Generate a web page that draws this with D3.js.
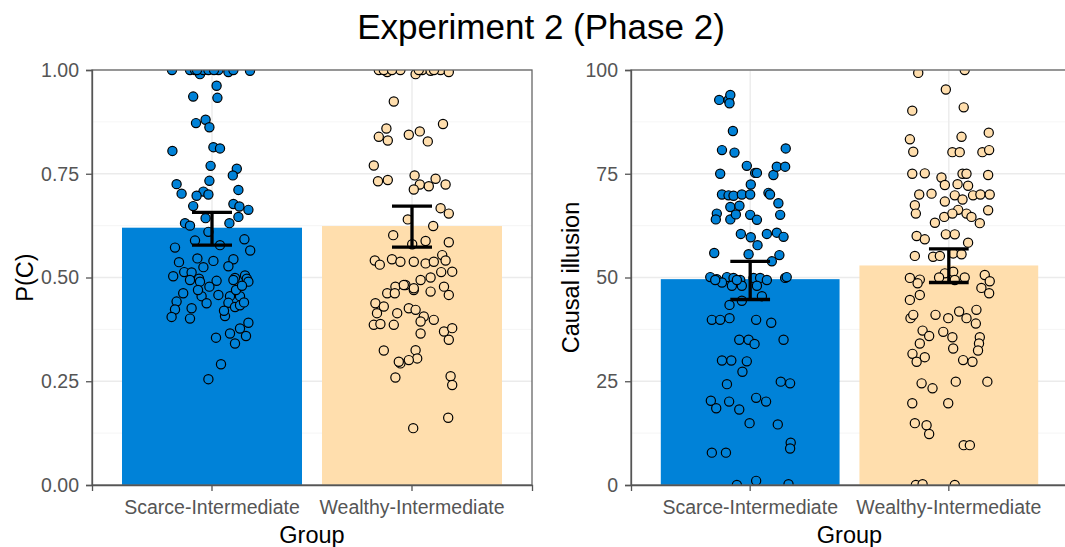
<!DOCTYPE html>
<html>
<head>
<meta charset="utf-8">
<script src="https://cdn.jsdelivr.net/npm/d3@7"></script>
<style>
  body { margin: 0; background: #fff; }
  svg { display: block; font-family: "Liberation Sans", Arial, sans-serif; }
</style>
</head>
<body>
<script>
const width = 1065;
const height = 547;

const groups = ['Scarce-Intermediate', 'Wealthy-Intermediate'];
const groupColors = ['#0082d8', '#ffdead'];

// panel 1: P(C)
const pcMeans = [0.620, 0.624];
const pcLow = [0.578, 0.573];
const pcHigh = [0.657, 0.672];
const pcTicks = [0, 0.25, 0.5, 0.75, 1];

// panel 2: causal illusion
const ciMeans = [49.6, 52.9];
const ciLow = [44.7, 48.8];
const ciHigh = [53.9, 56.9];
const ciTicks = [0, 25, 50, 75, 100];

// individual participants: [jitter (category units), value]
const scarcePC = [
  [-0.20, 1.00], [-0.11, 1.00], [-0.085, 1.00], [-0.06, 0.99], [-0.043, 1.00], [-0.018, 1.00],
  [0.032, 1.00], [0.082, 0.995], [0.107, 1.00], [0.19, 0.998], [-0.075, 1.00], [0.01, 1.00],
  [0.023, 0.962], [-0.094, 0.936], [0.027, 0.933], [-0.032, 0.880], [-0.08, 0.872], [-0.013, 0.862],
  [-0.198, 0.805], [0.007, 0.814], [0.04, 0.811], [-0.007, 0.769], [0.124, 0.762], [0.104, 0.746],
  [-0.013, 0.733], [-0.177, 0.725], [0.132, 0.711], [-0.043, 0.707], [-0.077, 0.697], [-0.018, 0.700],
  [-0.152, 0.702], [-0.094, 0.672], [0.107, 0.677], [0.137, 0.671], [0.182, 0.663], [-0.032, 0.643],
  [0.132, 0.646], [-0.135, 0.631], [-0.11, 0.625], [0.087, 0.631], [-0.018, 0.610], [0.162, 0.592],
  [-0.085, 0.589], [-0.185, 0.572], [0.040, 0.578], [0.191, 0.565], [-0.073, 0.546], [0.007, 0.540],
  [-0.165, 0.537], [0.107, 0.544], [0.082, 0.527], [-0.043, 0.525], [-0.139, 0.513], [-0.102, 0.512],
  [-0.194, 0.503], [-0.065, 0.497], [0.165, 0.505], [0.174, 0.497], [0.115, 0.499],
  [-0.11, 0.494], [-0.06, 0.49], [0.023, 0.492], [0.107, 0.494], [0.182, 0.49],
  [-0.144, 0.462], [-0.177, 0.442], [-0.102, 0.426], [-0.185, 0.423], [-0.052, 0.455], [-0.027, 0.438],
  [-0.013, 0.478], [-0.202, 0.405], [-0.11, 0.401], [0.032, 0.458], [0.090, 0.455], [0.140, 0.455],
  [0.082, 0.439], [0.115, 0.429], [0.140, 0.433], [0.065, 0.407], [0.182, 0.391], [0.020, 0.355],
  [0.090, 0.365], [0.140, 0.377], [0.115, 0.341], [0.170, 0.359], [0.045, 0.291], [-0.018, 0.255],
  [0.12, 0.47], [0.15, 0.48], [-0.07, 0.47], [0.06, 0.42], [0.16, 0.44]
];

const wealthyPC = [
  [-0.166, 1.00], [-0.124, 0.995], [-0.058, 1.00], [0.018, 0.99], [0.051, 1.00], [0.093, 0.998],
  [0.143, 1.00], [0.184, 0.995], [-0.141, 1.00], [-0.10, 1.00], [0.11, 1.00], [0.034, 1.00],
  [-0.091, 0.924], [0.155, 0.870], [-0.128, 0.859], [0.039, 0.852], [-0.016, 0.844], [-0.166, 0.839],
  [-0.121, 0.830], [0.079, 0.828], [-0.191, 0.770], [0.013, 0.746], [0.118, 0.738], [-0.17, 0.732],
  [-0.121, 0.735], [0.168, 0.724], [0.039, 0.724], [0.084, 0.72], [0.009, 0.712], [0.143, 0.667],
  [0.184, 0.654], [-0.021, 0.640], [0.106, 0.624], [-0.094, 0.602], [0.001, 0.580], [0.184, 0.585],
  [0.151, 0.554], [0.068, 0.588], [-0.186, 0.541], [-0.161, 0.531], [-0.10, 0.544], [-0.058, 0.538],
  [0.009, 0.538], [0.068, 0.534], [0.109, 0.538], [0.201, 0.514], [0.168, 0.541],
  [0.009, 0.470], [-0.033, 0.482], [-0.083, 0.478], [-0.124, 0.462], [0.043, 0.494], [0.093, 0.50],
  [0.146, 0.513], [-0.183, 0.438], [-0.175, 0.414], [-0.141, 0.43], [-0.074, 0.414], [-0.016, 0.426],
  [0.018, 0.422], [0.059, 0.406], [0.109, 0.398], [0.043, 0.394], [-0.086, 0.462], [-0.041, 0.482],
  [0.009, 0.474], [0.093, 0.466], [0.16, 0.478], [0.184, 0.458], [-0.191, 0.386], [-0.158, 0.388],
  [-0.091, 0.386], [0.043, 0.365], [0.16, 0.37], [0.201, 0.378], [0.184, 0.35], [-0.141, 0.324],
  [0.018, 0.325], [0.026, 0.305], [-0.016, 0.301], [-0.058, 0.293], [-0.066, 0.297], [-0.083, 0.259],
  [0.193, 0.262], [0.201, 0.241], [0.181, 0.162], [0.006, 0.137]
];

const scarceCI = [
  [-0.156, 92.8], [-0.109, 92.8], [-0.1, 94.0], [-0.104, 92.0], [-0.087, 85.3], [-0.142, 80.7],
  [-0.079, 80.1], [0.179, 81.1], [-0.017, 76.9], [0.025, 75.2], [0.034, 75.2], [-0.151, 75.0],
  [0.117, 74.7], [0.134, 76.7], [0.176, 76.7], [0.003, 72.4], [-0.142, 70], [-0.109, 69.8],
  [-0.084, 69.7], [-0.042, 70], [0, 70], [0.092, 70.4], [0.1, 70], [0.142, 67.9], [-0.1, 67],
  [-0.054, 67.3], [-0.168, 65.4], [-0.173, 64], [-0.1, 64], [-0.072, 65.2], [0, 65.1], [0.034, 63.9],
  [0.151, 65.1], [-0.047, 60.5], [0.003, 59.7], [0.037, 57.8], [0.084, 60.5], [0.134, 60.8],
  [0.168, 59.8], [-0.181, 55.9], [-0.008, 55.6], [0.109, 53.9], [0.147, 55.4],
  [-0.201, 50.1], [-0.168, 49.6], [-0.117, 50.1], [-0.084, 49.9], [-0.05, 49.4], [0.017, 49.9],
  [0.05, 49.9], [0.084, 49.4], [0.176, 49.9], [0.184, 50.1], [-0.142, 48.8], [-0.092, 48],
  [-0.042, 48], [0.034, 48], [-0.176, 49.4], [-0.067, 49.4], [0.059, 45.5], [-0.104, 43.4],
  [-0.042, 44.4], [-0.193, 39.8], [-0.151, 39.8], [-0.104, 40.2], [0.03, 39.8], [0.106, 39.1],
  [-0.055, 35], [-0.008, 35], [0.022, 34], [0.168, 35], [-0.142, 30], [-0.095, 30], [-0.017, 29.8],
  [-0.039, 27.3], [-0.117, 24.3], [0.154, 24.9], [0.201, 24.5], [-0.198, 20.3], [-0.171, 18.5],
  [-0.106, 20.1], [-0.055, 18.2], [0.03, 21.0], [0.08, 20.1], [-0.003, 14.9], [0.139, 14.6],
  [0.204, 10.2], [0.201, 8.8], [-0.193, 7.8], [-0.122, 7.8], [-0.067, 0], [0.03, 1], [0.193, 0.2]
];

const wealthyCI = [
  [-0.154, 99.3], [0.08, 100], [-0.015, 95.3], [0.075, 91.0], [-0.184, 90.2], [0.201, 84.9],
  [0.064, 83.9], [-0.196, 83.3], [-0.179, 80.3], [0.018, 80.2], [0.055, 80.2], [0.169, 80.2],
  [0.203, 80.7], [-0.184, 75], [-0.121, 75.1], [0.069, 75], [0.089, 75], [0.198, 74.7],
  [-0.037, 74.1], [-0.02, 72.3], [0.044, 72.5], [0.097, 72.1], [-0.149, 70], [-0.087, 70.2],
  [0.03, 69.8], [0.069, 68.8], [0.122, 69.8], [0.159, 70], [0.206, 70], [-0.02, 68.3], [0.047, 66.3],
  [-0.171, 67.4], [-0.166, 65.4], [-0.023, 64.6], [0.018, 65.4], [0.089, 65.4], [0.114, 64.6],
  [0.198, 66.2], [-0.07, 63.2], [0.156, 63.1], [-0.162, 60], [-0.121, 59.2], [-0.015, 60.4],
  [0.03, 60.4], [0.097, 58.4], [-0.171, 55.2], [-0.079, 55], [-0.045, 55.2], [0.022, 55.8],
  [0.064, 55.6], [-0.02, 51.0], [0.022, 51.4], [-0.049, 50], [0.08, 50], [0.181, 50.6],
  [-0.196, 49.9], [-0.146, 49.5], [0.206, 49.1], [0.164, 47.5], [-0.146, 45.8], [-0.157, 48.6],
  [0.03, 49.4], [0.203, 46.2], [-0.196, 44.6], [-0.193, 40.2], [-0.067, 41.0], [-0.003, 40.2],
  [0.052, 41.8], [0.089, 40.2], [0.139, 42.2], [0.136, 38.9], [-0.179, 41], [-0.132, 37.2],
  [-0.099, 35.9], [-0.028, 36.9], [0.018, 35.6], [-0.146, 34.1], [0.156, 35.6], [0.152, 34.1],
  [0.022, 32.9], [0.147, 32.4], [-0.183, 31.6], [-0.162, 29.7], [-0.121, 30.8], [0.072, 30.1],
  [0.119, 29.7], [-0.137, 24.5], [-0.082, 23.3], [0.035, 24.9], [0.194, 24.9], [-0.184, 19.7],
  [-0.003, 19.7], [-0.171, 14.9], [-0.112, 14.4], [-0.099, 12.3], [0.075, 9.6], [0.106, 9.6],
  [-0.166, 0], [-0.132, 0.2], [0.03, 0]
];

const svg = d3.select('body').append('svg')
  .attr('width', width)
  .attr('height', height);

svg.append('text')
  .attr('x', 541)
  .attr('y', 39)
  .attr('text-anchor', 'middle')
  .attr('font-size', 35)
  .attr('fill', '#000')
  .text('Experiment 2 (Phase 2)');

const drawPanel = (cfg) => {
  const {left, right, top, bottom, yMax, ticks, fmt, means, low, high, points, yLabel, yLabelX, id} = cfg;

  const x = d3.scaleBand().domain(groups).range([left, right])
    .paddingInner(0.1).paddingOuter(0.15);
  const y = d3.scaleLinear().domain([0, yMax]).range([bottom, top]);
  const step = x.step();
  const cx = (g) => x(g) + x.bandwidth() / 2;

  svg.append('clipPath').attr('id', id)
    .append('rect').attr('x', left).attr('y', top)
    .attr('width', right - left).attr('height', bottom - top);

  const panel = svg.append('g');

  // minor grid
  const minor = d3.range(ticks.length - 1).map(i => (ticks[i] + ticks[i + 1]) / 2);
  panel.selectAll('.minor').data(minor).enter().append('line')
    .attr('x1', left).attr('x2', right)
    .attr('y1', d => y(d)).attr('y2', d => y(d))
    .attr('stroke', '#f2f2f2').attr('stroke-width', 0.8);
  panel.selectAll('.major').data(ticks).enter().append('line')
    .attr('x1', left).attr('x2', right)
    .attr('y1', d => y(d)).attr('y2', d => y(d))
    .attr('stroke', '#ebebeb').attr('stroke-width', 1.4);
  panel.selectAll('.vmajor').data(groups).enter().append('line')
    .attr('x1', cx).attr('x2', cx)
    .attr('y1', top).attr('y2', bottom)
    .attr('stroke', '#ebebeb').attr('stroke-width', 1.4);

  const clipped = panel.append('g').attr('clip-path', `url(#${id})`);

  clipped.selectAll('.bar').data(groups).enter().append('rect')
    .attr('x', d => x(d))
    .attr('width', x.bandwidth())
    .attr('y', (d, i) => y(means[i]))
    .attr('height', (d, i) => bottom - y(means[i]))
    .attr('fill', (d, i) => groupColors[i]);

  groups.forEach((g, i) => {
    clipped.selectAll(`.pt${i}`).data(points[i]).enter().append('circle')
      .attr('cx', d => cx(g) + d[0] * step)
      .attr('cy', d => y(d[1]))
      .attr('r', 4.6)
      .attr('fill', groupColors[i])
      .attr('stroke', '#000')
      .attr('stroke-width', 1.2);
  });

  // error bars
  const ew = 0.2 * step / 2;
  const eb = panel.selectAll('.eb').data(groups).enter().append('g')
    .attr('stroke', '#000').attr('stroke-width', 3.3);
  eb.append('line')
    .attr('x1', cx).attr('x2', cx)
    .attr('y1', (d, i) => y(low[i])).attr('y2', (d, i) => y(high[i]));
  eb.append('line')
    .attr('x1', d => cx(d) - ew).attr('x2', d => cx(d) + ew)
    .attr('y1', (d, i) => y(low[i])).attr('y2', (d, i) => y(low[i]));
  eb.append('line')
    .attr('x1', d => cx(d) - ew).attr('x2', d => cx(d) + ew)
    .attr('y1', (d, i) => y(high[i])).attr('y2', (d, i) => y(high[i]));

  // border
  panel.append('rect')
    .attr('x', left).attr('y', top)
    .attr('width', right - left).attr('height', bottom - top)
    .attr('fill', 'none').attr('stroke', '#666').attr('stroke-width', 1.3);

  const yAxis = panel.append('g')
    .attr('transform', `translate(${left},0)`)
    .call(d3.axisLeft(y).tickValues(ticks).tickFormat(fmt).tickSize(6).tickPadding(7));
  yAxis.select('.domain').attr('stroke', '#555').attr('stroke-width', 1.3);
  yAxis.selectAll('.tick line').attr('stroke', '#555').attr('stroke-width', 1.3);
  yAxis.selectAll('.tick text').attr('fill', '#555').attr('font-size', 19.5)
    .attr('font-family', '"Liberation Sans", Arial, sans-serif');

  const xAxis = panel.append('g')
    .attr('transform', `translate(0,${bottom})`)
    .call(d3.axisBottom(x).tickSize(6).tickPadding(9));
  xAxis.select('.domain').attr('stroke', '#555').attr('stroke-width', 1.3);
  xAxis.selectAll('.tick line').attr('stroke', '#555').attr('stroke-width', 1.3);
  xAxis.selectAll('.tick text').attr('fill', '#555').attr('font-size', 19.5)
    .attr('font-family', '"Liberation Sans", Arial, sans-serif');

  svg.append('text')
    .attr('x', (left + right) / 2)
    .attr('y', 543)
    .attr('text-anchor', 'middle')
    .attr('font-size', 23.5)
    .text('Group');

  svg.append('text')
    .attr('transform', `translate(${yLabelX},${(top + bottom) / 2}) rotate(-90)`)
    .attr('text-anchor', 'middle')
    .attr('font-size', 23.5)
    .text(yLabel);
};

drawPanel({
  id: 'clipA', left: 92, right: 532, top: 70, bottom: 485, yMax: 1,
  ticks: pcTicks, fmt: d3.format('.2f'),
  means: pcMeans, low: pcLow, high: pcHigh,
  points: [scarcePC, wealthyPC], yLabel: 'P(C)', yLabelX: 33
});

drawPanel({
  id: 'clipB', left: 631, right: 1068, top: 70, bottom: 485, yMax: 100,
  ticks: ciTicks, fmt: d3.format('d'),
  means: ciMeans, low: ciLow, high: ciHigh,
  points: [scarceCI, wealthyCI], yLabel: 'Causal illusion', yLabelX: 579
});
</script>
</body>
</html>
